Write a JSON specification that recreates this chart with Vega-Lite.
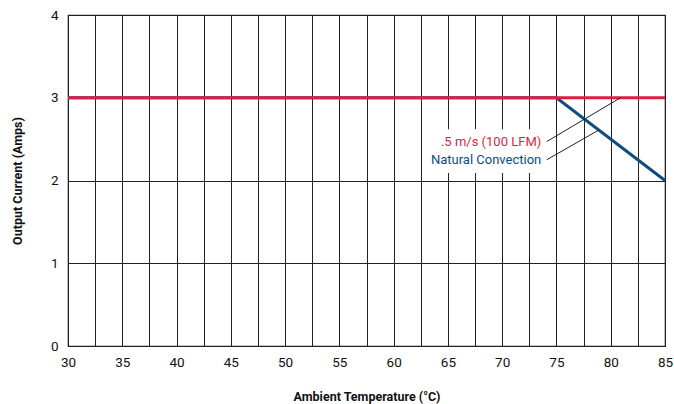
{
  "$schema": "https://vega.github.io/schema/vega-lite/v6.json",
  "width": 597,
  "height": 331,
  "autosize": {"type": "none"},
  "padding": {"left": 68, "top": 15, "right": 9, "bottom": 58},
  "background": "white",
  "config": {
    "font": "Roboto",
    "view": {"stroke": "#222", "strokeWidth": 1.2},
    "axis": {"grid": true, "gridColor": "#222", "gridOpacity": 1, "gridWidth": 1, "ticks": false, "domain": false, "labelFont": "Roboto", "labelFontSize": 13.5, "labelColor": "#111", "titleFont": "Roboto", "titleFontSize": 12.5, "titleFontWeight": "bold", "titleColor": "#111"}
  },
  "datasets": {
    "curves": [
      {"series": "Natural Convection", "x": 30, "y": 3},
      {"series": "Natural Convection", "x": 75, "y": 3},
      {"series": "Natural Convection", "x": 85, "y": 2},
      {"series": ".5 m/s (100 LFM)", "x": 30, "y": 3},
      {"series": ".5 m/s (100 LFM)", "x": 85, "y": 3}
    ],
    "labelbox": [
      {"x": 62.9, "y": 2.09, "x2": 73.9, "y2": 2.62}
    ],
    "leaders": [
      {"series": ".5 m/s (100 LFM)", "x": 74.1, "y": 2.47, "x2": 80.9, "y2": 3.0},
      {"series": "Natural Convection", "x": 74.1, "y": 2.25, "x2": 78.9, "y2": 2.61}
    ],
    "labels": [
      {"series": ".5 m/s (100 LFM)", "x": 73.6, "y": 2.47},
      {"series": "Natural Convection", "x": 73.6, "y": 2.25}
    ]
  },
  "encoding": {
    "x": {"field": "x", "type": "quantitative", "scale": {"domain": [30, 85], "nice": false, "zero": false},
      "axis": {"values": [30, 32.5, 35, 37.5, 40, 42.5, 45, 47.5, 50, 52.5, 55, 57.5, 60, 62.5, 65, 67.5, 70, 72.5, 75, 77.5, 80, 82.5, 85], "labelExpr": "datum.value % 5 == 0 ? format(datum.value, 'd') : ''", "labelOverlap": false, "labelPadding": 9, "title": "Ambient Temperature (°C)", "titlePadding": 22, "labelFlush": false}},
    "y": {"field": "y", "type": "quantitative", "scale": {"domain": [0, 4], "nice": false},
      "axis": {"values": [0, 1, 2, 3, 4], "format": "d", "labelPadding": 10, "title": "Output Current (Amps)", "titlePadding": 26, "labelFlush": false}}
  },
  "layer": [
    {
      "data": {"name": "curves"},
      "transform": [{"filter": "datum.series == 'Natural Convection'"}],
      "mark": {"type": "line", "strokeWidth": 3, "color": "#0f4c81"}
    },
    {
      "data": {"name": "curves"},
      "transform": [{"filter": "datum.series == '.5 m/s (100 LFM)'"}],
      "mark": {"type": "line", "strokeWidth": 3, "color": "#dc1f45"}
    },
    {
      "data": {"name": "labelbox"},
      "mark": {"type": "rect", "color": "white"},
      "encoding": {
        "x2": {"field": "x2"},
        "y2": {"field": "y2"}
      }
    },
    {
      "data": {"name": "leaders"},
      "mark": {"type": "rule", "color": "#222", "strokeWidth": 1},
      "encoding": {
        "x2": {"field": "x2"},
        "y2": {"field": "y2"}
      }
    },
    {
      "data": {"name": "labels"},
      "mark": {"type": "text", "align": "right", "baseline": "middle", "fontSize": 13, "font": "Roboto"},
      "encoding": {
        "text": {"field": "series"},
        "color": {"field": "series", "type": "nominal", "scale": {"domain": [".5 m/s (100 LFM)", "Natural Convection"], "range": ["#dc1f45", "#0f4c81"]}, "legend": null}
      }
    }
  ]
}
